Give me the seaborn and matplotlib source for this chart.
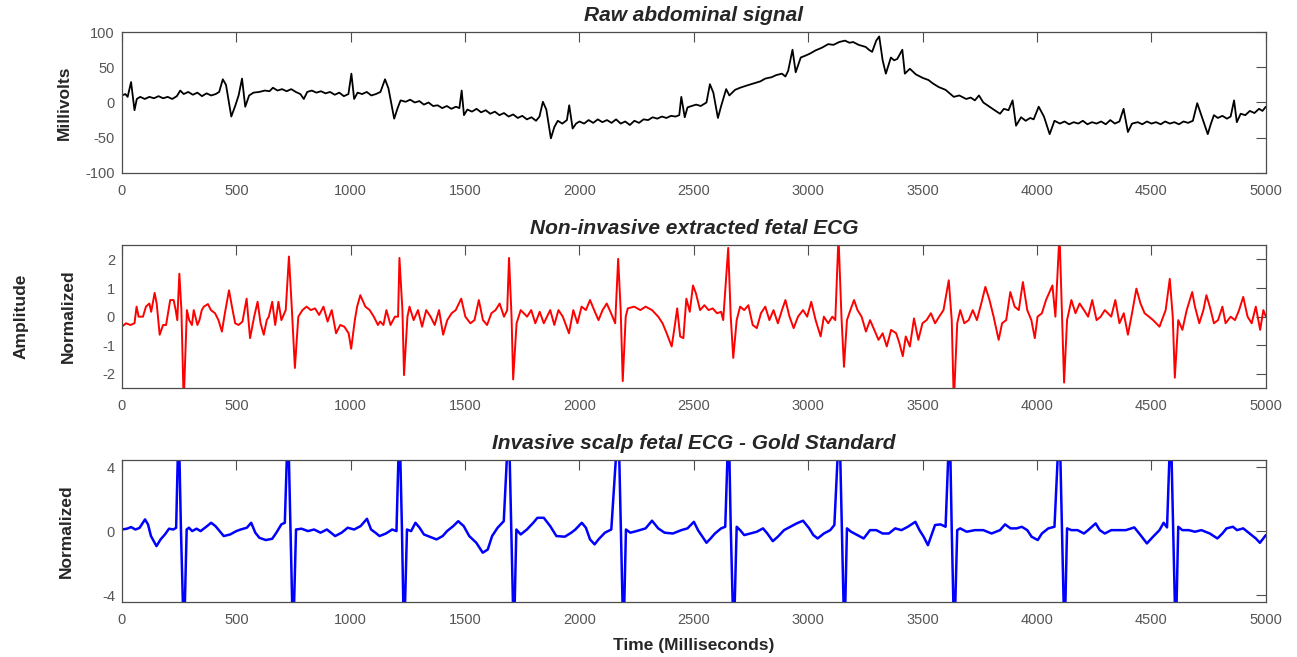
import matplotlib
matplotlib.use("Agg")
import matplotlib.pyplot as plt
import numpy as np
import pandas as pd
import seaborn as sns

# (time ms, value)
raw_pts = [(0, 10), (15, 12), (25, 8), (40, 29), (55, -11), (65, 5), (80, 8), (100, 5), (120, 8), (140, 6),
           (160, 9), (180, 6), (200, 8), (220, 5), (240, 9), (255, 17), (270, 12), (290, 15), (310, 11), (330, 14),
           (350, 9), (370, 13), (390, 10), (410, 12), (425, 15), (441, 33), (455, 25), (478, -20), (495, -5), (510, 10),
           (525, 34), (539, -6), (556, 10), (575, 14), (600, 15), (625, 17), (645, 16), (660, 21), (680, 17), (700, 19),
           (720, 16), (740, 19), (760, 15), (780, 12), (795, 5), (810, 15), (830, 17), (850, 14), (870, 16), (890, 13),
           (910, 15), (930, 11), (950, 14), (970, 9), (990, 12), (1003, 41), (1015, 5), (1030, 14), (1050, 12), (1070, 15),
           (1090, 10), (1110, 12), (1130, 15), (1150, 33), (1165, 20), (1190, -23), (1205, -8), (1218, 3), (1240, 1), (1260, 4),
           (1280, 0), (1300, 2), (1320, -3), (1340, 0), (1360, -5), (1380, -4), (1400, -8), (1420, -5), (1440, -9), (1460, -6),
           (1475, -8), (1485, 17), (1495, -18), (1510, -10), (1530, -13), (1550, -9), (1570, -14), (1590, -11), (1610, -16), (1630, -13),
           (1650, -18), (1670, -15), (1690, -20), (1710, -17), (1730, -22), (1750, -19), (1770, -24), (1790, -21), (1810, -26), (1825, -20),
           (1840, 1), (1855, -10), (1875, -51), (1890, -35), (1905, -26), (1925, -30), (1945, -25), (1955, -4), (1970, -37), (1985, -30),
           (2000, -27), (2020, -30), (2040, -25), (2060, -29), (2080, -24), (2100, -28), (2120, -25), (2140, -29), (2160, -24), (2180, -30),
           (2200, -27), (2220, -32), (2240, -26), (2260, -29), (2280, -24), (2300, -25), (2320, -21), (2340, -23), (2360, -20), (2380, -22),
           (2400, -19), (2420, -20), (2436, -18), (2445, 8), (2460, -21), (2472, -7), (2490, -5), (2510, -3), (2530, -5), (2555, 0),
           (2570, 26), (2585, 14), (2605, -22), (2620, -4), (2641, 19), (2655, 10), (2680, 18), (2702, 21), (2730, 24), (2760, 27),
           (2790, 30), (2812, 34), (2840, 36), (2860, 39), (2885, 41), (2900, 37), (2912, 45), (2931, 75), (2945, 43), (2967, 64),
           (2990, 67), (3010, 70), (3031, 74), (3060, 78), (3087, 83), (3110, 82), (3135, 86), (3160, 88), (3180, 85), (3196, 86),
           (3220, 82), (3240, 80), (3251, 79), (3265, 75), (3279, 72), (3297, 88), (3310, 94), (3325, 60), (3339, 41), (3361, 64),
           (3375, 60), (3389, 62), (3411, 75), (3422, 41), (3444, 48), (3470, 40), (3500, 35), (3525, 32), (3545, 27), (3570, 22),
           (3600, 18), (3636, 8), (3660, 10), (3690, 5), (3710, 7), (3728, 3), (3746, 10), (3765, 0), (3783, -4), (3810, -10),
           (3838, -16), (3855, -9), (3875, -11), (3893, 3), (3908, -33), (3930, -21), (3950, -26), (3970, -22), (3985, -24), (4007, -6),
           (4030, -20), (4055, -45), (4076, -26), (4100, -30), (4120, -27), (4140, -31), (4160, -28), (4180, -30), (4200, -26), (4220, -31),
           (4240, -28), (4260, -30), (4280, -27), (4300, -31), (4320, -25), (4340, -30), (4360, -27), (4378, -9), (4397, -42), (4415, -30),
           (4440, -28), (4460, -31), (4480, -27), (4500, -30), (4520, -28), (4540, -31), (4560, -27), (4580, -30), (4600, -28), (4620, -31),
           (4640, -27), (4660, -29), (4681, -26), (4700, -1), (4720, -20), (4746, -45), (4760, -30), (4773, -18), (4790, -22), (4810, -19),
           (4830, -23), (4846, -20), (4861, 3), (4873, -28), (4890, -16), (4910, -18), (4930, -12), (4950, -15), (4970, -9), (4985, -12),
           (5000, -6)]

noninv_pts = [(0, -0.35), (18, -0.23), (37, -0.29), (55, -0.23), (64, 0.35), (73, 0.0), (92, 0.0), (105, 0.35), (120, 0.46), (128, 0.17),
              (143, 0.83), (152, 0.46), (165, -0.63), (180, -0.29), (193, -0.29), (211, 0.58), (226, 0.58), (235, 0.23), (242, -0.12), (251, 1.5),
              (260, 0.23), (270, -3.0), (284, 0.23), (294, -0.12), (306, -0.29), (314, 0.23), (330, -0.29), (339, -0.12), (349, 0.23), (358, 0.35),
              (376, 0.44), (389, 0.23), (407, 0.12), (422, -0.12), (437, -0.52), (450, 0.12), (468, 0.92), (481, 0.35), (495, -0.23), (510, -0.29),
              (527, -0.17), (545, 0.63), (560, -0.75), (578, 0.0), (593, 0.52), (606, -0.23), (620, -0.63), (633, -0.12), (642, 0.0), (657, 0.52),
              (670, -0.29), (684, 0.52), (697, -0.12), (716, 0.23), (730, 2.1), (743, 0.23), (756, -1.79), (771, 0.0), (789, 0.23), (807, 0.35),
              (826, 0.23), (844, 0.29), (862, 0.06), (881, 0.35), (899, -0.17), (917, 0.23), (936, -0.58), (954, -0.29), (972, -0.35), (991, -0.58),
              (1002, -1.12), (1018, -0.12), (1028, 0.35), (1042, 0.75), (1064, 0.35), (1083, 0.23), (1101, 0.0), (1119, -0.29), (1128, -0.17), (1143, -0.29),
              (1156, 0.23), (1174, -0.29), (1193, 0.0), (1207, 0.0), (1213, 2.05), (1226, 0.23), (1233, -2.04), (1248, 0.0), (1257, 0.35), (1275, -0.12),
              (1294, 0.23), (1312, -0.35), (1330, 0.23), (1349, 0.0), (1367, -0.29), (1386, 0.23), (1404, -0.63), (1422, -0.12), (1441, 0.12), (1459, 0.23),
              (1483, 0.63), (1501, 0.0), (1523, -0.23), (1541, -0.12), (1560, 0.58), (1578, -0.12), (1596, -0.29), (1615, 0.12), (1633, 0.23), (1651, 0.46),
              (1670, 0.0), (1684, 0.23), (1692, 2.05), (1703, 0.0), (1710, -2.19), (1725, -0.23), (1743, 0.23), (1771, 0.0), (1789, 0.23), (1807, -0.23),
              (1826, 0.17), (1844, -0.23), (1872, 0.23), (1890, -0.29), (1908, 0.23), (1927, 0.0), (1954, -0.58), (1973, 0.23), (1991, -0.23), (2009, 0.35),
              (2028, 0.23), (2046, 0.58), (2064, 0.23), (2083, -0.12), (2101, 0.23), (2119, 0.46), (2138, 0.12), (2156, -0.23), (2169, 2.02), (2180, 0.23),
              (2189, -2.25), (2202, 0.0), (2211, 0.29), (2239, 0.35), (2266, 0.23), (2289, 0.35), (2317, 0.23), (2344, 0.0), (2363, -0.23), (2381, -0.58),
              (2403, -1.04), (2418, -0.23), (2427, 0.29), (2440, -0.69), (2454, -0.75), (2467, 0.63), (2482, 0.17), (2496, 1.09), (2509, 0.81), (2527, 0.23),
              (2546, 0.40), (2564, 0.23), (2582, 0.29), (2601, 0.12), (2619, 0.17), (2628, -0.12), (2650, 2.4), (2661, 0.0), (2672, -1.44), (2687, -0.12),
              (2702, 0.35), (2720, 0.23), (2738, 0.40), (2757, -0.29), (2775, -0.40), (2793, 0.12), (2812, 0.35), (2830, -0.12), (2848, 0.23), (2867, -0.23),
              (2885, 0.23), (2900, 0.58), (2918, 0.0), (2936, -0.40), (2955, 0.0), (2977, 0.23), (2995, 0.0), (3013, 0.52), (3032, -0.12), (3054, -0.69),
              (3068, 0.0), (3087, -0.23), (3105, 0.0), (3118, -0.12), (3132, 2.8), (3145, 0.0), (3156, -1.75), (3169, -0.12), (3184, 0.23), (3200, 0.58),
              (3215, 0.23), (3233, 0.0), (3252, -0.52), (3270, -0.12), (3288, -0.46), (3307, -0.81), (3325, -0.58), (3343, -1.04), (3362, -0.46), (3384, -0.58),
              (3398, -0.92), (3413, -1.38), (3426, -0.69), (3444, -1.04), (3462, -0.06), (3481, -0.81), (3499, -0.23), (3517, -0.12), (3536, 0.12), (3554, -0.23),
              (3572, 0.0), (3591, 0.23), (3614, 1.27), (3627, -0.12), (3636, -3.0), (3651, -0.23), (3664, 0.23), (3682, -0.23), (3701, -0.12), (3719, 0.23),
              (3737, -0.12), (3756, 0.46), (3774, 1.04), (3792, 0.58), (3810, 0.0), (3832, -0.81), (3847, -0.23), (3865, -0.12), (3883, 0.86), (3902, 0.35),
              (3920, 0.23), (3938, 1.21), (3957, 0.23), (3975, -0.12), (3990, -0.75), (4002, 0.0), (4021, 0.12), (4039, 0.58), (4067, 1.09), (4080, 0.0),
              (4098, 2.9), (4109, 0.0), (4118, -2.3), (4131, -0.12), (4150, 0.58), (4168, 0.12), (4186, 0.46), (4205, 0.23), (4223, 0.0), (4241, 0.58),
              (4260, -0.12), (4278, 0.0), (4296, 0.23), (4324, 0.0), (4342, 0.58), (4360, -0.23), (4379, 0.12), (4397, -0.63), (4415, 0.12), (4434, 0.98),
              (4452, 0.46), (4470, 0.12), (4489, 0.0), (4507, -0.12), (4535, -0.35), (4562, 0.23), (4580, 1.32), (4593, 0.0), (4602, -2.13), (4617, -0.12),
              (4635, -0.46), (4654, 0.23), (4678, 0.86), (4690, 0.35), (4709, -0.23), (4727, 0.23), (4740, 0.75), (4755, 0.35), (4773, -0.23), (4791, -0.12),
              (4810, 0.35), (4824, -0.23), (4846, 0.0), (4865, -0.12), (4883, 0.23), (4901, 0.69), (4920, 0.0), (4938, -0.23), (4956, 0.35), (4975, -0.46),
              (4989, 0.23), (5000, 0.0)]

scalp_pts = [(0, 0.1), (22, 0.15), (40, 0.25), (59, 0.1), (77, 0.2), (101, 0.73), (114, 0.42), (127, -0.31), (151, -0.94), (169, -0.52),
             (188, -0.21), (206, 0.15), (225, 0.1), (237, 0.21), (248, 7), (258, 0.1), (271, -7), (283, 0.1), (293, 0.21), (307, 0.0),
             (326, 0.15), (344, 0.0), (372, 0.31), (390, 0.52), (409, 0.31), (427, 0.0), (445, -0.31), (473, -0.21), (500, 0.0), (519, 0.1),
             (546, 0.21), (565, 0.52), (583, -0.1), (601, -0.42), (629, -0.56), (657, -0.48), (675, -0.1), (697, 0.42), (712, 0.52), (726, 7),
             (737, 0.1), (748, -7), (761, 0.1), (785, 0.15), (813, 0.0), (840, 0.1), (868, -0.1), (896, 0.1), (932, -0.31), (960, -0.1),
             (987, 0.21), (1015, 0.1), (1043, 0.31), (1071, 0.77), (1089, 0.1), (1108, -0.1), (1126, -0.31), (1154, -0.15), (1181, 0.1), (1200, 0.0),
             (1213, 7), (1224, 0.1), (1233, -7), (1246, 0.1), (1264, 0.0), (1283, 0.52), (1301, 0.21), (1320, -0.21), (1338, -0.31), (1375, -0.52),
             (1402, -0.31), (1421, 0.0), (1448, 0.31), (1470, 0.62), (1494, 0.31), (1518, -0.31), (1549, -0.73), (1577, -1.35), (1599, -1.15), (1618, -0.31),
             (1642, 0.21), (1669, 0.62), (1691, 7), (1702, 0.1), (1713, -7), (1724, 0.1), (1743, -0.21), (1770, 0.1), (1798, 0.52), (1816, 0.83),
             (1844, 0.83), (1872, 0.31), (1899, -0.31), (1936, -0.35), (1964, -0.1), (1982, 0.1), (2010, 0.52), (2028, 0.21), (2046, -0.52), (2066, -0.83),
             (2083, -0.52), (2111, -0.1), (2139, 0.1), (2170, 7), (2181, 0.1), (2192, -7), (2203, 0.1), (2222, -0.1), (2249, 0.0), (2289, 0.17),
             (2317, 0.65), (2344, 0.17), (2372, -0.1), (2408, -0.15), (2445, 0.06), (2472, 0.17), (2500, 0.58), (2518, 0.06), (2537, -0.35), (2555, -0.73),
             (2573, -0.46), (2592, -0.15), (2619, 0.17), (2637, 0.27), (2652, 7), (2661, 0.27), (2674, -7), (2687, 0.27), (2702, 0.06), (2720, -0.25),
             (2747, -0.15), (2775, -0.04), (2802, 0.17), (2821, -0.15), (2845, -0.63), (2867, -0.35), (2894, 0.06), (2922, 0.27), (2949, 0.48), (2977, 0.65),
             (3004, 0.17), (3022, -0.25), (3041, -0.46), (3068, -0.15), (3096, 0.06), (3114, 0.38), (3136, 7), (3147, 0.06), (3158, -7), (3169, 0.17),
             (3187, -0.04), (3215, -0.25), (3242, -0.46), (3270, 0.06), (3297, 0.06), (3325, -0.15), (3352, -0.15), (3380, 0.17), (3407, 0.06), (3435, 0.27),
             (3468, 0.58), (3486, 0.06), (3504, -0.35), (3523, -0.88), (3536, -0.35), (3554, 0.38), (3578, 0.42), (3600, 0.27), (3618, 7), (3627, 0.06),
             (3638, -7), (3651, 0.06), (3664, 0.17), (3692, -0.04), (3728, 0.06), (3765, 0.06), (3801, -0.15), (3838, 0.06), (3860, 0.42), (3884, 0.17),
             (3911, 0.17), (3933, 0.27), (3957, 0.06), (3976, -0.35), (4003, -0.56), (4021, -0.15), (4049, 0.17), (4076, 0.27), (4098, 7), (4109, 0.06),
             (4120, -7), (4131, 0.17), (4150, 0.06), (4177, 0.06), (4205, -0.15), (4223, 0.06), (4256, 0.48), (4274, 0.06), (4296, -0.15), (4324, 0.06),
             (4351, 0.06), (4388, 0.06), (4425, 0.23), (4452, -0.25), (4480, -0.77), (4507, -0.35), (4535, 0.06), (4553, 0.52), (4568, 0.23), (4584, 7),
             (4595, 0.06), (4606, -7), (4617, 0.27), (4635, 0.06), (4663, 0.06), (4690, -0.04), (4718, 0.06), (4755, -0.15), (4788, -0.46), (4810, -0.15),
             (4828, 0.17), (4856, 0.27), (4874, 0.06), (4901, 0.17), (4929, -0.15), (4956, -0.46), (4974, -0.73), (5000, -0.25)]

titles = ["Raw abdominal signal", "Non-invasive extracted fetal ECG", "Invasive scalp fetal ECG - Gold Standard"]
ylabels = ["Millivolts", "Normalized", "Normalized"]
xticks = np.arange(0, 5001, 500)

sns.set_theme(style="white")
plt.rcParams['font.family'] = ['Liberation Sans', 'DejaVu Sans']
plt.rcParams['axes.unicode_minus'] = False

fig = plt.figure(figsize=(12.97, 6.57), dpi=100)
boxes = [[0.094, 0.737, 0.882, 0.214], [0.094, 0.409, 0.882, 0.218], [0.094, 0.084, 0.882, 0.216]]
series = [raw_pts, noninv_pts, scalp_pts]
colors = ["black", "#ff0000", "#0000ff"]
widths = [1.3, 1.4, 1.8]
ylims = [(-100, 100), (-2.5, 2.5), (-4.42, 4.45)]
yticks = [np.arange(-100, 101, 50), np.arange(-2, 3, 1), [-4, 0, 4]]
label_x = [-0.044, -0.040, -0.042]

for i in range(3):
    ax = fig.add_axes(boxes[i])
    df = pd.DataFrame(series[i], columns=["t", "v"])
    sns.lineplot(data=df, x="t", y="v", ax=ax, color=colors[i], linewidth=widths[i],
                 sort=False, estimator=None)
    ax.set_xlim(0, 5000)
    ax.set_ylim(*ylims[i])
    ax.set_xticks(xticks)
    ax.set_yticks(yticks[i])
    ax.set_title(titles[i], fontsize=15, fontweight="bold", fontstyle="italic", pad=8)
    ax.set_ylabel(ylabels[i], fontsize=12.5, fontweight="bold", color="#262626")
    ax.yaxis.set_label_coords(label_x[i], 0.5)
    ax.set_xlabel("")
    ax.tick_params(direction="in", length=7.5, width=0.8, color="#4d4d4d", labelcolor="#555555",
                   labelsize=10.5, top=True, right=True)
    ax.tick_params(axis="x", pad=8)
    ax.tick_params(axis="y", pad=5)
    for s in ax.spines.values():
        s.set_color("#4d4d4d")
        s.set_linewidth(0.9)

ax.set_xlabel("Time (Milliseconds)", fontsize=12.5, fontweight="bold", color="#262626", labelpad=8)
fig.text(0.016, 0.519, "Amplitude", rotation=90, ha="center", va="center",
         fontsize=12.5, fontweight="bold", color="#262626")

fig.savefig("out.png", dpi=100, facecolor="white")
